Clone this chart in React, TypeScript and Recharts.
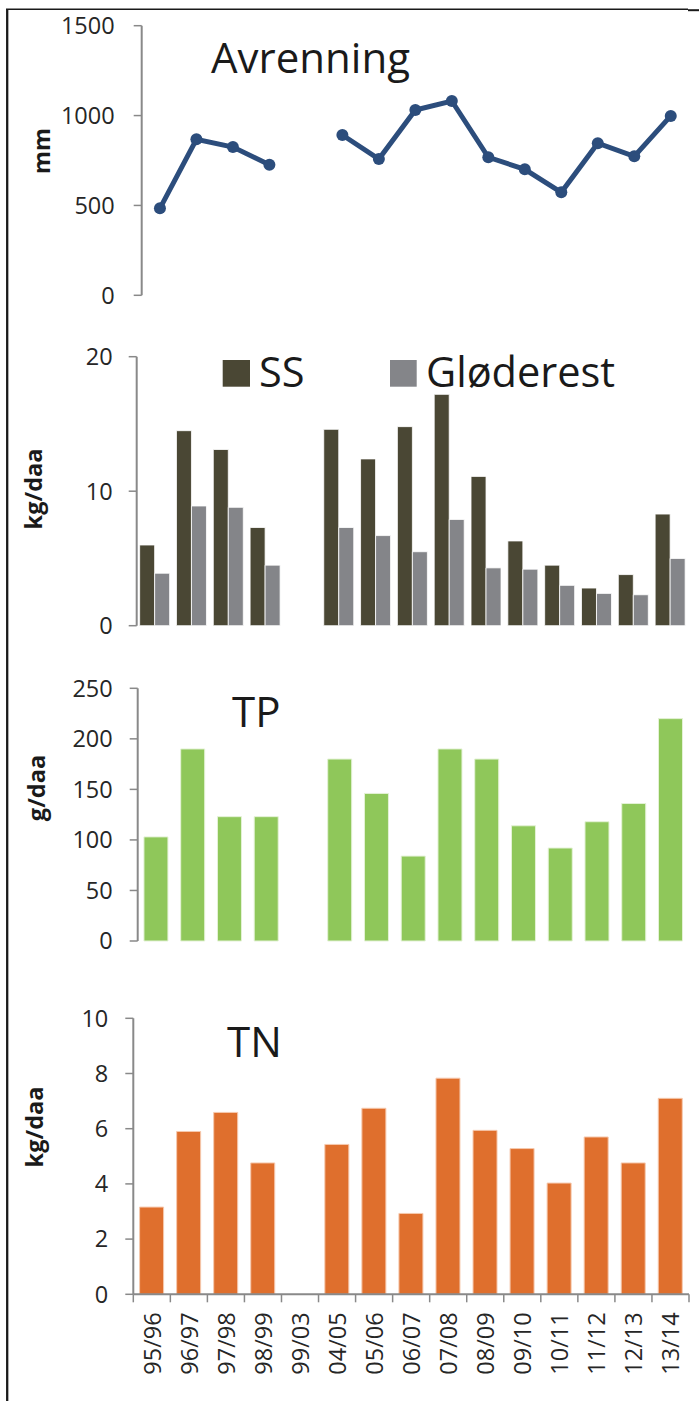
import React from "react";
import { LineChart, Line, BarChart, Bar, XAxis, YAxis } from "recharts";

// seasons on the shared category axis
const seasons = [
    "95/96", "96/97", "97/98", "98/99", "99/03", "04/05", "05/06", "06/07",
    "07/08", "08/09", "09/10", "10/11", "11/12", "12/13", "13/14",
];

// Avrenning (mm)
const avrenning = [484, 868, 825, 727, null, 892, 758, 1031, 1081, 768, 701, 573, 846, 773, 998];
// SS and Gløderest (kg/daa)
const ss = [6.0, 14.5, 13.1, 7.3, null, 14.6, 12.4, 14.8, 17.2, 11.1, 6.3, 4.5, 2.8, 3.8, 8.3];
const glodeRest = [3.9, 8.9, 8.8, 4.5, null, 7.3, 6.7, 5.5, 7.9, 4.3, 4.2, 3.0, 2.4, 2.3, 5.0];
// TP (g/daa)
const tp = [103, 190, 123, 123, null, 180, 146, 84, 190, 180, 114, 92, 118, 136, 220];
// TN (kg/daa)
const tn = [3.16, 5.9, 6.59, 4.76, null, 5.43, 6.74, 2.93, 7.83, 5.94, 5.28, 4.03, 5.7, 4.76, 7.1];

const avrTicks = [0, 500, 1000, 1500];
const ssTicks = [0, 10, 20];
const tpTicks = [0, 50, 100, 150, 200, 250];
const tnTicks = [0, 2, 4, 6, 8, 10];

const rows = seasons.map((season, i) => ({
    season,
    avr: avrenning[i],
    ss: ss[i],
    glo: glodeRest[i],
    tp: tp[i],
    tn: tn[i],
}));

const FONT = '"Open Sans", "Noto Sans", sans-serif';
const TEXT = "#262626";
const AXIS = "#898989";

const axisLine = { stroke: AXIS, strokeWidth: 2 };
const tickLine = { stroke: AXIS, strokeWidth: 1.5 };
const tickText = { fontSize: 23.5, fill: TEXT, fontFamily: FONT };

const TN_LEFT = 133.3;
const TN_BAND = (689 - TN_LEFT) / seasons.length;

// x ticks of the bottom panel: tick marks sit between categories, labels are vertical
const SeasonTick = (props: any) => {
    const { x, y, payload, index } = props;
    const left = x - TN_BAND / 2;
    const right = x + TN_BAND / 2;
    const ty = y + 18;
    return (
        <g>
            {index === 0 && <line x1={left} y1={y} x2={left} y2={y + 8} stroke={AXIS} strokeWidth={1.5} />}
            <line x1={right} y1={y} x2={right} y2={y + 8} stroke={AXIS} strokeWidth={1.5} />
            <text
                x={x}
                y={ty}
                transform={`rotate(-90, ${x}, ${ty})`}
                textAnchor="end"
                dominantBaseline="central"
                fontSize={23.5}
                fill={TEXT}
                fontFamily={FONT}
            >
                {payload.value}
            </text>
        </g>
    );
};

const Title = ({ x, y, children }: any) => (
    <text x={x} y={y} fontSize={42} fill="#1a1a1a" fontFamily={FONT}>
        {children}
    </text>
);

const YLabel = ({ x, y, children }: any) => (
    <text
        x={x}
        y={y}
        transform={`rotate(-90, ${x}, ${y})`}
        textAnchor="middle"
        fontSize={23.5}
        fontWeight="bold"
        fill="#1a1a1a"
        fontFamily={FONT}
    >
        {children}
    </text>
);

export default function App() {
    return (
        <div
            style={{
                position: "absolute",
                left: 0,
                top: 0,
                width: 699,
                height: 1401,
                background: "#fff",
                fontFamily: FONT,
                overflow: "hidden",
            }}
        >
            {/* Avrenning */}
            <div style={{ position: "absolute", left: 0, top: 0 }}>
                <LineChart width={699} height={320} data={rows} margin={{ top: 25.7, right: 10, bottom: 24.7, left: 0 }}>
                    <XAxis dataKey="season" scale="band" height={0} tick={false} tickLine={false} axisLine={axisLine} />
                    <YAxis
                        width={141.7}
                        domain={[0, 1500]}
                        ticks={avrTicks}
                        interval={0}
                        tickSize={8}
                        tickMargin={19}
                        tick={tickText}
                        axisLine={axisLine}
                        tickLine={tickLine}
                    />
                    <Line
                        dataKey="avr"
                        stroke="#2C4D7C"
                        strokeWidth={5}
                        dot={{ r: 6, fill: "#2C4D7C", stroke: "#2C4D7C", strokeWidth: 0 }}
                        activeDot={false}
                        connectNulls={false}
                        isAnimationActive={false}
                    />
                </LineChart>
            </div>

            {/* SS / Gløderest */}
            <div style={{ position: "absolute", left: 0, top: 320 }}>
                <BarChart
                    width={699}
                    height={330}
                    data={rows}
                    margin={{ top: 36.7, right: 10, bottom: 24.3, left: 0 }}
                    barCategoryGap="8%"
                    barGap={0}
                >
                    <XAxis dataKey="season" height={0} tick={false} tickLine={false} axisLine={axisLine} />
                    <YAxis
                        width={136.7}
                        domain={[0, 20]}
                        ticks={ssTicks}
                        interval={0}
                        tickSize={8}
                        tickMargin={16}
                        tick={tickText}
                        axisLine={axisLine}
                        tickLine={tickLine}
                    />
                    <Bar dataKey="ss" name="SS" fill="#4A4734" stroke="#ffffff" strokeWidth={0.8} isAnimationActive={false} />
                    <Bar dataKey="glo" name="Gløderest" fill="#848589" stroke="#ffffff" strokeWidth={0.8} isAnimationActive={false} />
                </BarChart>
            </div>

            {/* TP */}
            <div style={{ position: "absolute", left: 0, top: 650 }}>
                <BarChart
                    width={699}
                    height={320}
                    data={rows}
                    margin={{ top: 38.3, right: 10, bottom: 29, left: 0 }}
                    barCategoryGap="17%"
                >
                    <XAxis dataKey="season" height={0} tick={false} tickLine={false} axisLine={axisLine} />
                    <YAxis
                        width={137.7}
                        domain={[0, 250]}
                        ticks={tpTicks}
                        interval={0}
                        tickSize={8}
                        tickMargin={17}
                        tick={tickText}
                        axisLine={axisLine}
                        tickLine={tickLine}
                    />
                    <Bar dataKey="tp" fill="#8FC75A" stroke="#e4f2d6" strokeWidth={1} isAnimationActive={false} />
                </BarChart>
            </div>

            {/* TN */}
            <div style={{ position: "absolute", left: 0, top: 970 }}>
                <BarChart
                    width={699}
                    height={431}
                    data={rows}
                    margin={{ top: 48.3, right: 10, bottom: 0, left: 0 }}
                    barCategoryGap="17%"
                >
                    <XAxis
                        dataKey="season"
                        height={106.7}
                        interval={0}
                        tickSize={0}
                        tickMargin={0}
                        tickLine={false}
                        tick={<SeasonTick />}
                        axisLine={axisLine}
                    />
                    <YAxis
                        width={TN_LEFT}
                        domain={[0, 10]}
                        ticks={tnTicks}
                        interval={0}
                        tickSize={8}
                        tickMargin={17}
                        tick={tickText}
                        axisLine={axisLine}
                        tickLine={tickLine}
                    />
                    <Bar dataKey="tn" fill="#DF6F2D" stroke="#f6c9ae" strokeWidth={1} isAnimationActive={false} />
                </BarChart>
            </div>

            {/* titles, legend, axis titles and frame */}
            <svg
                width={699}
                height={1401}
                style={{ position: "absolute", left: 0, top: 0, pointerEvents: "none" }}
            >
                <line x1={7.2} y1={9.3} x2={7.2} y2={1401} stroke="#1a1a1a" strokeWidth={2.3} />
                <line x1={6} y1={9.3} x2={688} y2={9.3} stroke="#1a1a1a" strokeWidth={1.5} />
                <line x1={688} y1={10.2} x2={699} y2={10.2} stroke="#1a1a1a" strokeWidth={2} />

                <Title x={211} y={73.3}>Avrenning</Title>
                <Title x={232} y={726.7}>TP</Title>
                <Title x={227} y={1056.7}>TN</Title>

                <rect x={222.7} y={360} width={27.3} height={26.7} fill="#4A4734" />
                <text x={259} y={386.7} fontSize={41.5} fill="#1a1a1a" fontFamily={FONT}>SS</text>
                <rect x={390} y={360} width={26.7} height={26.7} fill="#848589" />
                <text x={426} y={386.7} fontSize={41.5} fill="#1a1a1a" fontFamily={FONT}>Gløderest</text>

                <YLabel x={50} y={151}>mm</YLabel>
                <YLabel x={42} y={489}>kg/daa</YLabel>
                <YLabel x={45} y={788}>g/daa</YLabel>
                <YLabel x={43} y={1127}>kg/daa</YLabel>
            </svg>
        </div>
    );
}
